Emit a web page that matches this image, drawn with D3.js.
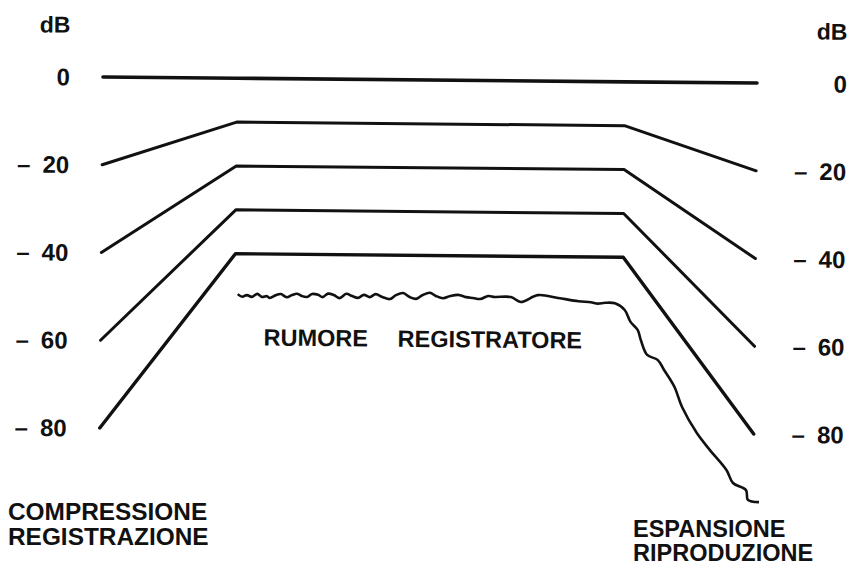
<!DOCTYPE html>
<html>
<head>
<meta charset="utf-8">
<script src="https://cdn.jsdelivr.net/npm/d3@7"></script>
<style>
  body { margin: 0; background: #fff; }
  svg text { font-family: 'Liberation Sans', Arial, Helvetica, sans-serif; font-weight: bold; fill: #111; }
</style>
</head>
<body>
<div class="container"></div>
<script>
//Stages of the signal path (percent of the drawing width)
const stageX = [0, 20.5, 79.8, 100];

//Input level, level on tape after compression, output after expansion
const inputLevels = [0, -20, -40, -60, -80],
      recordedLevels = [0, -10, -20, -30, -40];

//Tick values of both dB axes
const tickValues = [0, -20, -40, -60, -80];

//Tape noise trace (x in percent, level in dB)
const noiseX = [20.9, 21.6, 22.3, 23.1, 23.9, 24.6, 25.4, 25.8, 26.8, 27.5, 28.4, 29.2, 30.0, 30.7,
                31.5, 32.3, 33.2, 33.9, 34.7, 35.6, 36.5, 37.5, 38.4, 39.3, 40.2, 41.1, 42.0, 43.1,
                44.2, 45.1, 46.2, 47.2, 48.2, 49.2, 50.3, 51.2, 52.3, 53.4, 54.6, 55.8, 56.9, 58.0,
                59.2, 60.2, 62.7, 64.2, 66.8, 69.9, 73.0, 74.9, 76.0, 77.1, 78.6, 80.1, 81.0, 82.1,
                82.6, 83.6, 85.2, 86.2, 87.8, 89.0, 91.3, 93.3, 95.9, 96.9, 98.9, 99.2, 100.9],
      noiseDb = [-49.2, -49.8, -49.4, -49.8, -49.1, -49.8, -49.6, -50.0, -49.3, -49.1, -49.8, -49.3, -49.0, -49.5,
                 -49.7, -49.0, -49.2, -49.7, -48.9, -49.2, -49.9, -48.9, -49.4, -49.8, -49.1, -49.6, -48.9, -49.6,
                 -50.0, -49.1, -48.6, -49.5, -49.9, -49.0, -48.5, -49.2, -49.7, -49.2, -48.9, -49.4, -49.6, -49.8,
                 -49.1, -49.3, -49.3, -50.4, -48.8, -49.4, -50.1, -50.3, -50.6, -50.4, -50.5, -52.0, -54.7, -56.5,
                 -58.8, -62.2, -63.3, -65.6, -69.4, -74.0, -79.9, -83.7, -88.3, -91.2, -92.8, -95.0, -95.5];

//Texts
const captionLeft = ['COMPRESSIONE', 'REGISTRAZIONE'],
      captionRight = ['ESPANSIONE', 'RIPRODUZIONE'],
      noiseLabel = ['RUMORE', 'REGISTRATORE'];

//Declaration of the size
const width = 851,
      height = 566;

var svg = d3.select('.container')
            .append('svg')
            .attr('width', width)
            .attr('height', height);

//Scales
var x = d3.scaleLinear()
          .domain([0, 100])
          .range([103, 757]);

var y = d3.scaleLinear()
          .domain([0, -80])
          .range([77, 428]);

//The printed page is slightly tilted
var g = svg.append('g')
           .attr('transform', 'rotate(0.53, 103, 77)');

var line = d3.line()
             .x(function (d) { return x(d[0]); })
             .y(function (d) { return y(d[1]); });

//Compander curves
g.selectAll('.level')
 .data(inputLevels)
 .enter()
 .append('path')
 .attr('class', 'level')
 .attr('d', function (d, i) {
   var r = recordedLevels[i];
   return line([[stageX[0], d], [stageX[1], r], [stageX[2], r], [stageX[3], d]]);
 })
 .attr('fill', 'none')
 .attr('stroke', '#111')
 .attr('stroke-width', function (d, i) { return i === 0 ? 3.6 : (i === 4 ? 3.4 : 3); })
 .attr('stroke-linejoin', 'round')
 .attr('stroke-linecap', 'round');

//Noise of the recorder
g.append('path')
 .datum(noiseX.map(function (v, i) { return [v, noiseDb[i]]; }))
 .attr('d', line.curve(d3.curveCatmullRom))
 .attr('fill', 'none')
 .attr('stroke', '#111')
 .attr('stroke-width', 2.6)
 .attr('stroke-linejoin', 'round');

//Tick labels, left and right
[70, 847].forEach(function (xPos) {
  g.append('text')
   .text('dB')
   .attr('x', xPos)
   .attr('y', 33)
   .attr('text-anchor', 'end')
   .style('font-size', '23px');

  var t = g.selectAll(null)
           .data(tickValues)
           .enter()
           .append('text')
           .attr('x', xPos)
           .attr('y', function (d) { return y(d); })
           .attr('dy', '0.36em')
           .attr('text-anchor', 'end')
           .style('font-size', '24px');

  t.filter(function (d) { return d !== 0; })
   .append('tspan')
   .text('\u2013');

  t.append('tspan')
   .attr('dx', function (d) { return d === 0 ? 0 : 12; })
   .text(function (d) { return Math.abs(d); });
});

//Noise label
g.append('text')
 .attr('y', 344)
 .style('font-size', '23.5px')
 .selectAll('tspan')
 .data(noiseLabel)
 .enter()
 .append('tspan')
 .attr('x', function (d, i) { return i === 0 ? 266 : 400; })
 .text(function (d) { return d; });

//Captions under the chart
svg.append('text')
   .attr('y', 520)
   .style('font-size', '24.4px')
   .selectAll('tspan')
   .data(captionLeft)
   .enter()
   .append('tspan')
   .attr('x', 8)
   .attr('dy', function (d, i) { return i === 0 ? 0 : 25; })
   .text(function (d) { return d; });

svg.append('text')
   .attr('y', 537)
   .style('font-size', '23.5px')
   .selectAll('tspan')
   .data(captionRight)
   .enter()
   .append('tspan')
   .attr('x', 633)
   .attr('dy', function (d, i) { return i === 0 ? 0 : 24; })
   .text(function (d) { return d; });
</script>
</body>
</html>
